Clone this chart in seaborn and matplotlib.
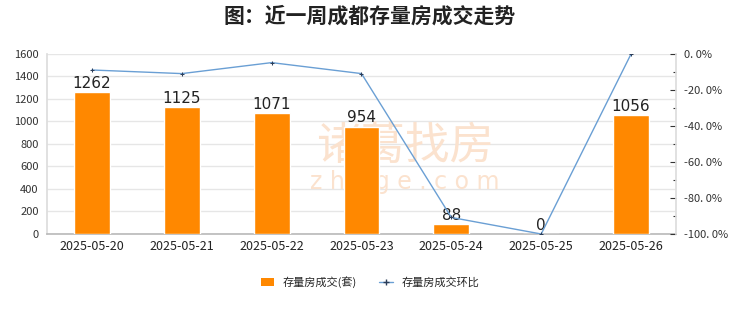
import matplotlib
matplotlib.use("Agg")
import matplotlib.pyplot as plt
import seaborn as sns
import pandas as pd
from matplotlib.lines import Line2D
from matplotlib.patches import Patch
from matplotlib.ticker import FuncFormatter, MultipleLocator

dates = ["2025-05-20", "2025-05-21", "2025-05-22", "2025-05-23", "2025-05-24", "2025-05-25", "2025-05-26"]
volumes = [1262, 1125, 1071, 954, 88, 0, 1056]
changes = [-8.9, -10.9, -4.8, -10.9, -90.8, -100.0, 0.0]
bar_name = "存量房成交(套)"
line_name = "存量房成交环比"
title = "图：近一周成都存量房成交走势"

sns.set_theme(style="white")
plt.rcParams['font.family'] = ['Noto Sans CJK SC', 'DejaVu Sans']

df = pd.DataFrame({"date": dates, "volume": volumes, "change": changes})

fig = plt.figure(figsize=(7.4, 3.12), dpi=100)
ax = fig.add_axes([0.0635, 0.25, 0.85, 0.577])

bar_color = "#FF8800"
sns.barplot(data=df, x="date", y="volume", ax=ax, color=bar_color, width=0.4, saturation=1, zorder=3)
ax.set_ylim(0, 1600)
ax.yaxis.set_major_locator(MultipleLocator(200))
ax.grid(axis="y", color="#e6e6e6", linewidth=1, zorder=0)
ax.set_axisbelow(True)
ax.set_xlabel("")
ax.set_ylabel("")
for s in ["top", "right"]:
    ax.spines[s].set_visible(False)
ax.spines["left"].set_color("#dddddd")
ax.spines["bottom"].set_color("#bbbbbb")
ax.tick_params(axis="y", labelsize=8, colors="#333333", length=0, pad=6)
ax.tick_params(axis="x", labelsize=9, colors="#222222", length=0, pad=4)
for c in ax.containers:
    ax.bar_label(c, labels=[str(v) for v in volumes], fontsize=11, color="#222222", padding=1,
                 family="DejaVu Sans", zorder=4)

# watermark (behind the bars)
wm_color = "#fbe2ce"
ax.text(0.547, 0.533, "诸葛找房", transform=fig.transFigure, fontsize=32, color=wm_color,
        fontweight="light", ha="center", va="center", zorder=1)
ax.text(0.547, 0.418, "z h u g e . c o m", transform=fig.transFigure, fontsize=17, color=wm_color,
        ha="center", va="center", zorder=1, family="DejaVu Sans")

ax2 = ax.twinx()
sns.pointplot(data=df, x="date", y="change", ax=ax2, color="#6a9fd4", markers="+",
              linewidth=1, markersize=3, markeredgecolor="#2c3e5a", zorder=3)
ax2.set_ylim(-100, 0)
ax2.yaxis.set_major_locator(MultipleLocator(20))
ax2.yaxis.set_minor_locator(MultipleLocator(10))
ax2.yaxis.set_major_formatter(FuncFormatter(lambda v, p: f"{v:.1f}%".replace(".", ". ")))
ax2.tick_params(axis="y", which="major", labelsize=8, colors="#333333", length=4, width=0.8, direction="in", pad=6)
ax2.tick_params(axis="y", which="minor", length=2, width=0.8, direction="in", colors="#333333")
ax2.set_ylabel("")
ax2.set_xlabel("")
for s in ["top", "right", "left", "bottom"]:
    ax2.spines[s].set_visible(False)
ax2.spines["right"].set_visible(True)
ax2.spines["right"].set_color("#dddddd")

fig.text(0.5, 0.95, title, fontsize=15, fontweight="bold", ha="center", va="center", color="#222222")

handles = [Patch(facecolor=bar_color, edgecolor="none"),
           Line2D([0], [0], color="#6a9fd4", lw=1, marker="+", markersize=4, markeredgecolor="#2c3e5a")]
fig.legend(handles, [bar_name, line_name], loc="center", bbox_to_anchor=(0.5, 0.095), ncol=2,
           frameon=False, fontsize=8, handlelength=1.2, handleheight=0.7, columnspacing=2.0)

fig.savefig("out.png", dpi=100)
